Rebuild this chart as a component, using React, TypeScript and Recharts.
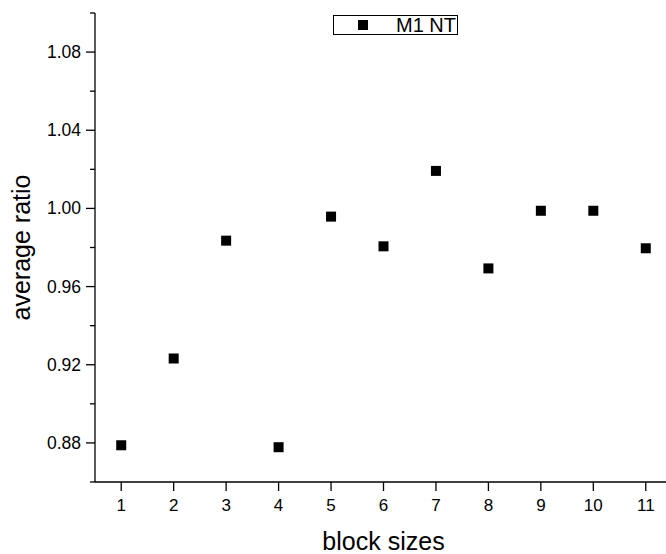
import React from 'react';
import { ScatterChart, Scatter, XAxis, YAxis, Legend, Label } from 'recharts';

const blockSizes = [1, 2, 3, 4, 5, 6, 7, 8, 9, 10, 11];
const averageRatio = [0.8788, 0.9232, 0.9835, 0.8778, 0.9958, 0.9806, 1.0192, 0.9693, 0.9988, 0.9988, 0.9796];

const xTicks = [1, 2, 3, 4, 5, 6, 7, 8, 9, 10, 11];
// major ticks every 0.04, minor in between
const yTicks = [0.86, 0.88, 0.9, 0.92, 0.94, 0.96, 0.98, 1.0, 1.02, 1.04, 1.06, 1.08, 1.1];

const seriesName = 'M1 NT';
const FONT = '"Liberation Sans", Arial, Helvetica, sans-serif';

const data = blockSizes.map((b, i) => ({ block: b, ratio: averageRatio[i] }));

const isMajor = (v: number) => Math.round(v * 100) % 4 === 0;

const YTick = (props: any) => {
  const { x, y, payload } = props;
  const major = isMajor(payload.value);
  const len = major ? 9 : 5;
  return (
    <g>
      <line x1={x} x2={x - len} y1={y} y2={y} stroke="#000" strokeWidth={1.3} />
      {major && (
        <text x={x - 14} y={y + 6} textAnchor="end" fontSize={17.5} fontFamily={FONT} fill="#000">
          {payload.value.toFixed(2)}
        </text>
      )}
    </g>
  );
};

const XTick = (props: any) => {
  const { x, y, payload } = props;
  return (
    <g>
      <line x1={x} x2={x} y1={y} y2={y + 9} stroke="#000" strokeWidth={1.3} />
      <text x={x} y={y + 29} textAnchor="middle" fontSize={17} fontFamily={FONT} fill="#000">
        {payload.value}
      </text>
    </g>
  );
};

const SquareDot = (props: any) => {
  const { cx, cy } = props;
  return <rect x={cx - 5} y={cy - 5} width={10} height={10} fill="#000" />;
};

const LegendBox = () => (
  <div
    style={{
      boxSizing: 'border-box',
      width: 125,
      height: 20,
      border: '1px solid #000',
      background: '#fff',
      position: 'relative',
      fontFamily: FONT,
      fontSize: 20,
      lineHeight: '20px',
      color: '#000',
    }}
  >
    <span style={{ position: 'absolute', left: 24, top: 4, width: 10, height: 10, background: '#000' }} />
    <span style={{ position: 'absolute', right: 1, top: -1 }}>{seriesName}</span>
  </div>
);

export default function App() {
  return (
    <div style={{ position: 'fixed', left: 0, top: 0, width: 666, height: 554, overflow: 'hidden', background: '#fff' }}>
      <ScatterChart width={680} height={554} margin={{ top: 13, right: 8, bottom: 0, left: 0 }}>
        <XAxis
          type="number"
          dataKey="block"
          domain={[0.5, 11.5]}
          ticks={xTicks}
          interval={0}
          tickSize={0}
          tickMargin={0}
          tickLine={false}
          tick={<XTick />}
          axisLine={{ stroke: '#000', strokeWidth: 1.3 }}
          height={72}
        >
          <Label
            content={(p: any) => {
              const vb = p.viewBox;
              return (
                <text x={vb.x + vb.width / 2} y={vb.y + 68} textAnchor="middle" fontSize={25} fontFamily={FONT} fill="#000">
                  block sizes
                </text>
              );
            }}
          />
        </XAxis>
        <YAxis
          type="number"
          dataKey="ratio"
          domain={[0.86, 1.1]}
          ticks={yTicks}
          interval={0}
          tickSize={0}
          tickMargin={0}
          tickLine={false}
          tick={<YTick />}
          axisLine={{ stroke: '#000', strokeWidth: 1.3 }}
          width={95}
          allowDataOverflow
        >
          <Label
            content={(p: any) => {
              const vb = p.viewBox;
              const cx = vb.x + 30;
              const cy = vb.y + vb.height / 2;
              return (
                <text
                  x={cx}
                  y={cy}
                  transform={`rotate(-90, ${cx}, ${cy})`}
                  textAnchor="middle"
                  fontSize={25}
                  fontFamily={FONT}
                  fill="#000"
                >
                  average ratio
                </text>
              );
            }}
          />
        </YAxis>
        <Legend
          layout="horizontal"
          verticalAlign="middle"
          align="center"
          content={<LegendBox />}
          wrapperStyle={{ left: 333, top: 15, width: 125 }}
        />
        <Scatter name={seriesName} data={data} fill="#000" shape={<SquareDot />} isAnimationActive={false} />
      </ScatterChart>
    </div>
  );
}
